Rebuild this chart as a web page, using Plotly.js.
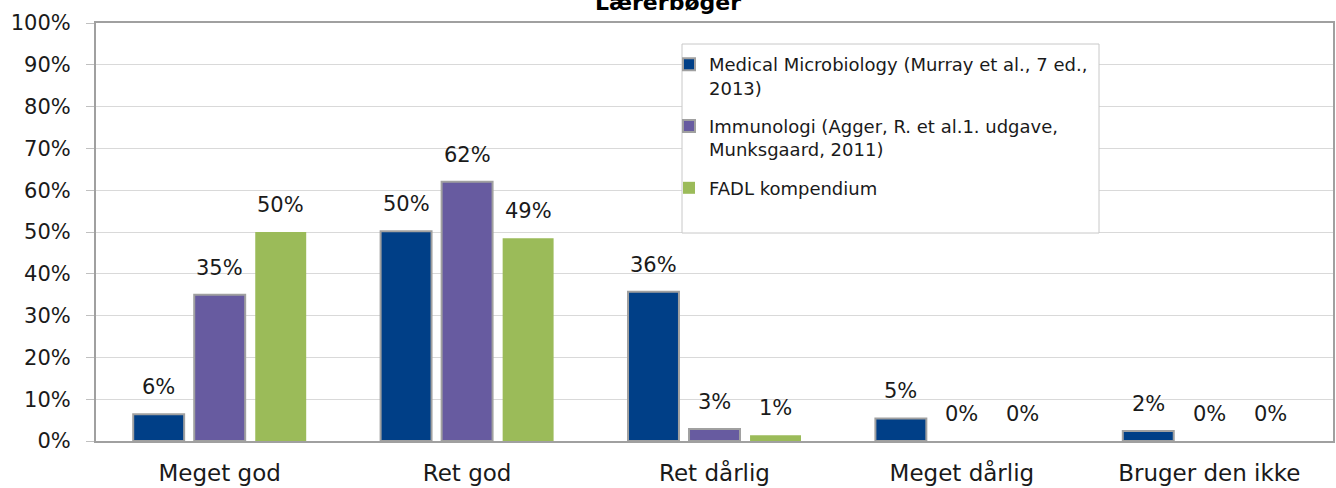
<!DOCTYPE html>
<html>
<head>
<meta charset="utf-8">
<script src="https://cdn.plot.ly/plotly-3.0.1.min.js"></script>
<style>html,body{margin:0;padding:0;background:#fff;}#chart{width:1336px;height:488px;}</style>
</head>
<body>
<div id="chart"></div>
<script>
const categories = ["Meget god", "Ret god", "Ret dårlig", "Meget dårlig", "Bruger den ikke"];
const seriesNames = [
  "Medical Microbiology (Murray et al., 7 ed.,<br>2013)",
  "Immunologi (Agger, R. et al.1. udgave,<br>Munksgaard, 2011)",
  "FADL kompendium"
];
const microbiology = [6.4, 50.2, 35.7, 5.4, 2.4];
const immunologi = [35.0, 62.0, 2.9, 0, 0];
const fadl = [50.0, 48.5, 1.4, 0, 0];
const labelsMicro = ["6%", "50%", "36%", "5%", "2%"];
const labelsImmu = ["35%", "62%", "3%", "0%", "0%"];
const labelsFadl = ["50%", "49%", "1%", "0%", "0%"];
const yTickVals = [0,10,20,30,40,50,60,70,80,90,100];
const yTickText = ["0%","10%","20%","30%","40%","50%","60%","70%","80%","90%","100%"];

const FONT = "DejaVu Sans, sans-serif";
const colors = ["#003F87", "#675BA0", "#9BBB59"];
const outlineColors = ["#a0a0a0", "#a0a0a0", "#9BBB59"];
const outlineWidths = [2, 2, 0];
const values = [microbiology, immunologi, fadl];
const labels = [labelsMicro, labelsImmu, labelsFadl];

const traces = values.map((v, i) => ({
  type: "bar",
  x: categories,
  y: v,
  name: seriesNames[i],
  legendgroup: "g" + i,
  marker: {
    color: colors[i],
    line: {color: outlineColors[i], width: v.map(val => val > 0 ? outlineWidths[i] : 0)}
  },
  hoverinfo: "skip"
}));

const L = 96, R = 3, T = 23, B = 47, W = 1336, H = 488;
const catW = (W - L - R) / categories.length;
const bargap = 0.26, bargroupgap = 0.165;
const slot = catW * (1 - bargap) / 3;

const annotations = [];
values.forEach((v, i) => {
  v.forEach((val, j) => {
    annotations.push({
      x: categories[j], y: val, xref: "x", yref: "y",
      text: labels[i][j], showarrow: false,
      xshift: (i - 1) * slot, yshift: 27, yanchor: "middle",
      font: {family: FONT, size: 21, color: "#1a1a1a"}
    });
  });
});

const layout = {
  width: W, height: H,
  margin: {l: L, r: R, t: T, b: B, pad: 0},
  paper_bgcolor: "#fff", plot_bgcolor: "#fff",
  barmode: "group", bargap: bargap, bargroupgap: bargroupgap,
  font: {family: FONT, color: "#1a1a1a"},
  title: {
    text: "<b>Lærerbøger</b>",
    xref: "container", x: 0.5, xanchor: "center",
    yref: "container", y: 1 - 10 / H, yanchor: "bottom",
    font: {family: FONT, size: 22, color: "#000"}
  },
  xaxis: {
    type: "category",
    showline: true, linecolor: "#a0a0a0", linewidth: 2, mirror: true,
    ticks: "", showgrid: false,
    tickfont: {family: FONT, size: 23, color: "#1a1a1a"},
    ticklabelstandoff: 10
  },
  yaxis: {
    range: [0, 100], tickvals: yTickVals, ticktext: yTickText,
    showline: true, linecolor: "#a0a0a0", linewidth: 2, mirror: true,
    ticks: "outside", ticklen: 8, tickcolor: "#c0c0c0", tickwidth: 1,
    showgrid: true, gridcolor: "#d9d9d9", gridwidth: 1,
    zeroline: false,
    tickfont: {family: FONT, size: 21, color: "#1a1a1a"},
    ticklabelstandoff: 11
  },
  showlegend: true,
  legend: {
    x: (669 - L) / (W - L - R), xanchor: "left",
    y: (H - B - 46) / (H - T - B), yanchor: "top",
    bgcolor: "rgba(0,0,0,0)", borderwidth: 0,
    font: {family: FONT, size: 18, color: "#1a1a1a"},
    valign: "top", tracegroupgap: 12, itemclick: false
  },
  shapes: [{
    type: "rect", xref: "paper", yref: "paper", layer: "above",
    x0: (682 - L) / (W - L - R), x1: (1099 - L) / (W - L - R),
    y0: (H - B - 233) / (H - T - B), y1: (H - B - 44) / (H - T - B),
    line: {color: "#c8c8c8", width: 1}, fillcolor: "#ffffff"
  }],
  annotations: annotations
};

Plotly.newPlot("chart", traces, layout, {displayModeBar: false, staticPlot: true});
</script>
</body>
</html>
